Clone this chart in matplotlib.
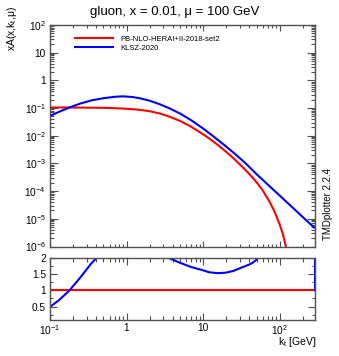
import numpy as np
import matplotlib
matplotlib.use("Agg")
import matplotlib.pyplot as plt
from matplotlib.ticker import FixedLocator, FuncFormatter, LogLocator, NullFormatter, MultipleLocator
from matplotlib.lines import Line2D

plt.rcParams['font.family'] = ['Liberation Sans', 'DejaVu Sans']
plt.rcParams['mathtext.fontset'] = 'custom'
plt.rcParams['mathtext.rm'] = 'Liberation Sans'
plt.rcParams['mathtext.it'] = 'Liberation Sans:italic'
plt.rcParams['mathtext.bf'] = 'Liberation Sans:bold'

# ---------------- data ----------------
kt = [0.1, 0.13, 0.18, 0.25, 0.35, 0.5, 0.7, 0.9, 1.2, 1.5, 2.0, 2.7, 3.6, 5.0, 7.0,
      10.0, 12.0, 15.0, 17.5, 20.0, 25.0, 30.0, 35.0, 40.0, 45.0, 50.0, 60.0, 73.0,
      85.0, 100.0, 110.0, 120.0, 125.0, 130.0, 150.0, 200.0, 290.0]

pb_nlo = [0.105, 0.105, 0.105, 0.104, 0.103, 0.102, 0.099, 0.096, 0.091, 0.086, 0.077,
          0.0639, 0.0496, 0.0343, 0.0211, 0.0113, 0.0080, 0.00503, 0.00358, 0.00264,
          0.00153, 9.4e-4, 6.2e-4, 4.2e-4, 2.95e-4, 2.1e-4, 1.07e-4, 4.4e-5,
          1.94e-5, 6.4e-6, 2.87e-6, 1.1e-6, 5.9e-7, 2.2e-7, 0.0, 0.0, 0.0]

klsz = [0.0515, 0.0725, 0.105, 0.146, 0.19, 0.227, 0.255, 0.265, 0.25, 0.225, 0.185,
        0.138, 0.099, 0.0635, 0.0363, 0.0183, 0.01248, 0.00772, 0.0055, 0.00409,
        0.00245, 1.58e-3, 1.08e-3, 7.55e-4, 5.49e-4, 4.1e-4, 2.57e-4, 1.555e-4,
        1.053e-4, 6.95e-5, 5.44e-5, 4.35e-5, 3.9e-5, 3.55e-5, 2.45e-5, 1.17e-5, 4.53e-6]

labels = ["PB-NLO-HERAI+II-2018-set2", "KLSZ-2020"]
colors = ["#ff0000", "#0000ff"]
title = "gluon, x = 0.01, \u03bc = 100 GeV"
ylabel = "xA(x,k$_{\\mathrm{t}}$,\u03bc)"
xlabel = "k$_{\\mathrm{t}}$ [GeV]"
stamp = "TMDplotter 2.2.4"
ratio_end = 1.0   # value the plotter gives at the last point where the reference is zero

xlim = (0.1, 290)
ylim_main = (1e-6, 1e2)
ylim_ratio = (0.1, 2.0)

# ---------------- figure ----------------
W, H = 339, 356
fig = plt.figure(figsize=(W / 100, H / 100), dpi=100)
L, R = 50, 315
ax = fig.add_axes([L / W, 1 - 246.5 / H, (R - L) / W, (246.5 - 25) / H])
rax = fig.add_axes([L / W, 1 - 319.5 / H, (R - L) / W, (319.5 - 258) / H])

x = np.array(kt)
red = np.array(pb_nlo)
blue = np.array(klsz)

mask_r = red > 0
ax.plot(x[mask_r], red[mask_r], color=colors[0], lw=1.5, solid_capstyle='butt')
ax.plot(x, blue, color=colors[1], lw=1.5, solid_capstyle='butt')

ax.set_xscale('log')
ax.set_yscale('log')
ax.set_xlim(*xlim)
ax.set_ylim(*ylim_main)

# ratio
ratio = np.where(red > 0, blue / np.where(red > 0, red, 1.0), 1e3)
ratio[-1] = ratio_end
rax.plot(x, np.ones_like(x), color=colors[0], lw=1.5)
rax.plot(x, ratio, color=colors[1], lw=1.5)
rax.set_xscale('log')
rax.set_xlim(*xlim)
rax.set_ylim(*ylim_ratio)

frame_col = '#505050'

def main_fmt(v, pos):
    e = int(round(np.log10(v)))
    if e == 0:
        return "1"
    if e == 1:
        return "10"
    return "10$^{%d}$" % e

for a in (ax, rax):
    for s in a.spines.values():
        s.set_color(frame_col)
        s.set_linewidth(1.0)
    a.tick_params(which='both', direction='in', top=True, right=True,
                  color=frame_col, width=0.8, labelsize=7.3, pad=3)
    a.xaxis.set_major_locator(FixedLocator([0.1, 1, 10, 100]))
    a.xaxis.set_minor_locator(LogLocator(base=10, subs=np.arange(2, 10), numticks=20))
    a.xaxis.set_minor_formatter(NullFormatter())

ax.tick_params(axis='x', which='major', length=4)
ax.tick_params(axis='x', which='minor', length=2)
ax.tick_params(axis='y', which='major', length=6)
ax.tick_params(axis='y', which='minor', length=3)
ax.xaxis.set_major_formatter(NullFormatter())
ax.yaxis.set_major_locator(FixedLocator([10.0 ** e for e in range(-6, 3)]))
ax.yaxis.set_minor_locator(LogLocator(base=10, subs=np.arange(2, 10), numticks=20))
ax.yaxis.set_major_formatter(FuncFormatter(main_fmt))
ax.yaxis.set_minor_formatter(NullFormatter())

rax.tick_params(axis='x', which='major', length=5)
rax.tick_params(axis='x', which='minor', length=3)
rax.tick_params(axis='y', which='major', length=5)
rax.tick_params(axis='y', which='minor', length=2.5)
rax.xaxis.set_major_formatter(FuncFormatter(main_fmt))
rax.yaxis.set_major_locator(FixedLocator([0.5, 1.0, 1.5, 2.0]))
rax.yaxis.set_minor_locator(MultipleLocator(0.25))
rax.yaxis.set_major_formatter(FuncFormatter(lambda v, p: ("%g" % v)))
rax.tick_params(axis='x', pad=2.5)

# legend
handles = [Line2D([], [], color=c, lw=1.5) for c in colors]
ax.legend(handles, labels, loc='upper left', bbox_to_anchor=(0.095, 0.953),
          frameon=False, fontsize=5.5, handlelength=4.9, handletextpad=1.0,
          borderpad=0, borderaxespad=0, labelspacing=0.2)

# texts
fig.text(175 / W, 1 - 12 / H, title, ha='center', va='center', fontsize=9.5)
fig.text(12 / W, 1 - 6 / H, ylabel, ha='center', va='top', rotation=90, fontsize=7.5)
fig.text(316 / W, 1 - 342 / H, xlabel, ha='right', va='center', fontsize=7.5)
fig.text(328 / W, 1 - 204 / H, stamp, ha='center', va='center', rotation=90, fontsize=7)

fig.savefig("out.png", dpi=100)
